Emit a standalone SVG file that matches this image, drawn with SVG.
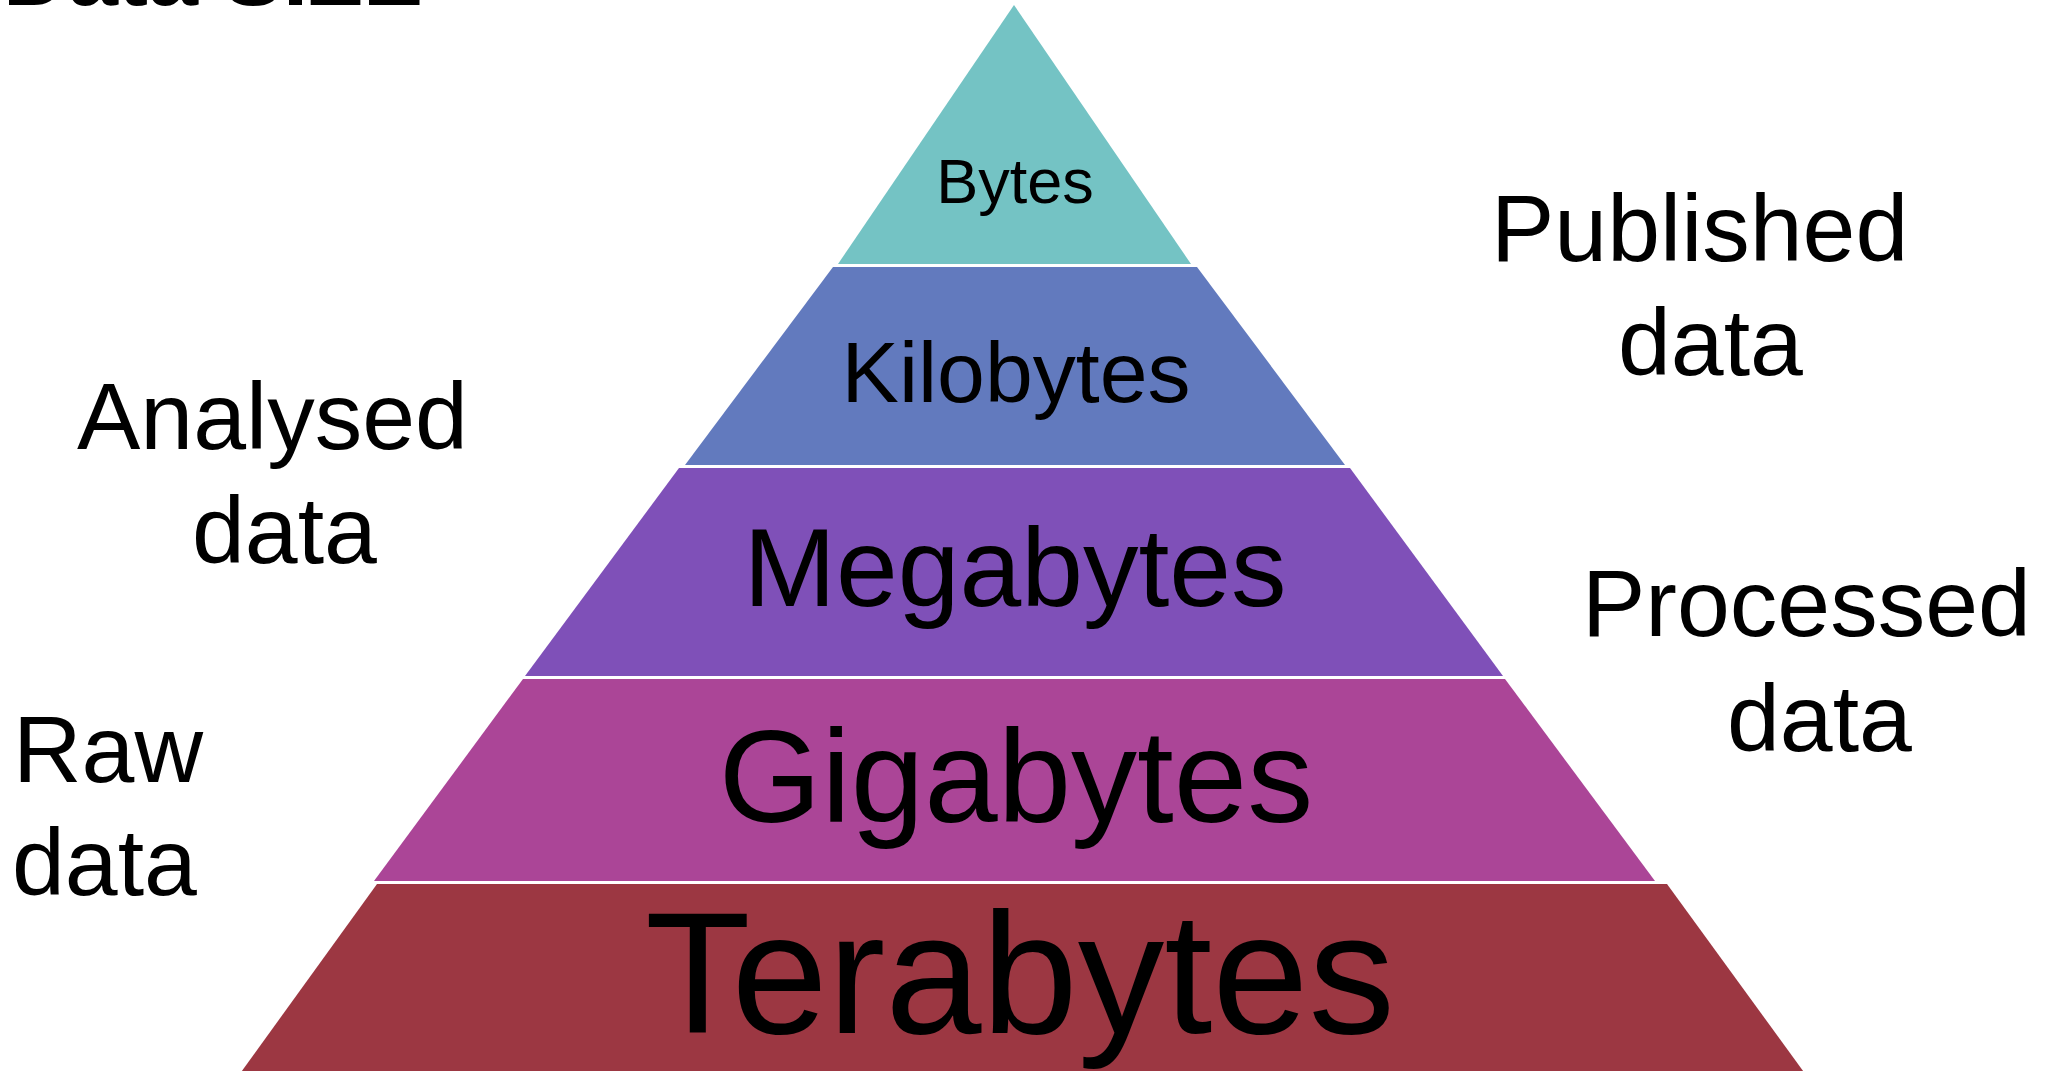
<svg xmlns="http://www.w3.org/2000/svg" width="2059" height="1071" viewBox="0 0 2059 1071">
  <style>
    .t { font-family: "Liberation Sans", Arial, sans-serif; fill: #000000; }
    .c { text-anchor: middle; }
    .side { font-size: 95px; }
  </style>
  <rect x="0" y="0" width="2059" height="1071" fill="#ffffff"/>
  <g id="title">
    <text class="t" x="3" y="5" font-size="90" font-weight="bold">Data SIZE</text>
  </g>
  <g id="connectors"/>
  <g id="layer-bytes">
    <polygon points="1014,5 1191,264 838,264" fill="#74C3C4"/>
    <text class="t c" x="1015" y="203" font-size="63">Bytes</text>
  </g>
  <g id="layer-kilobytes">
    <polygon points="833,267 1197,267 1345,465 685,465" fill="#627ABE"/>
    <text class="t c" x="1016" y="402" font-size="86">Kilobytes</text>
  </g>
  <g id="layer-megabytes">
    <polygon points="679,468 1350,468 1503,676 525,676" fill="#7F50B8"/>
    <text class="t c" x="1015" y="606" font-size="111">Megabytes</text>
  </g>
  <g id="layer-gigabytes">
    <polygon points="523,679 1505,679 1655,881 374,881" fill="#AB4597"/>
    <text class="t c" x="1016" y="822" font-size="132">Gigabytes</text>
  </g>
  <g id="layer-terabytes">
    <polygon points="377,884 1667,884 1806,1075 239,1075" fill="#9C3742"/>
    <text class="t c" x="1020" y="1033" font-size="173">Terabytes</text>
  </g>
  <g id="label-analysed">
    <text class="t side" x="77" y="449">Analysed</text>
    <text class="t side" x="192" y="563">data</text>
  </g>
  <g id="label-raw">
    <text class="t side" x="13" y="782">Raw</text>
    <text class="t side" x="12" y="895">data</text>
  </g>
  <g id="label-published">
    <text class="t side" x="1491" y="261">Published</text>
    <text class="t side" x="1618" y="375">data</text>
  </g>
  <g id="label-processed">
    <text class="t side" x="1582" y="636">Processed</text>
    <text class="t side" x="1727" y="751">data</text>
  </g>
</svg>
